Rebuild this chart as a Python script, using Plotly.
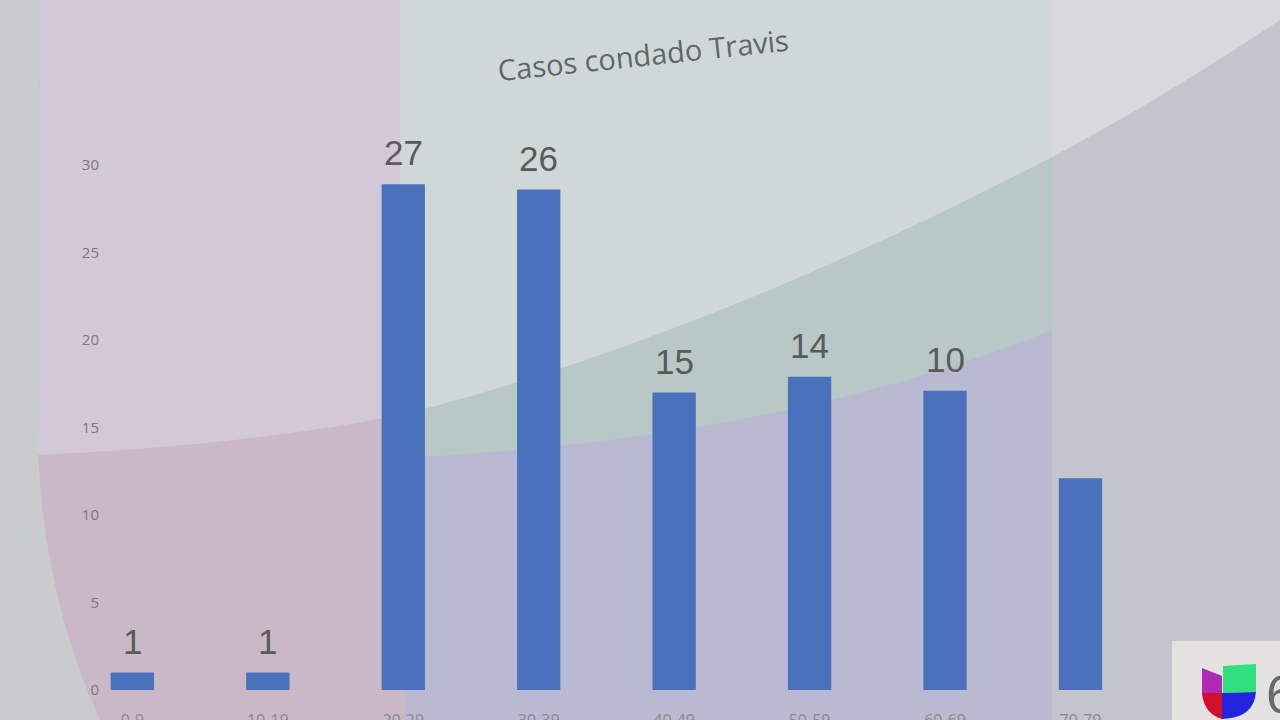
import plotly.graph_objects as go

# ---- data ----
age_groups = ["0-9", "10-19", "20-29", "30-39", "40-49", "50-59", "60-69", "70-79"]
bar_values = [1, 1, 28.9, 28.6, 17.0, 17.9, 17.1, 12.1]      # bar heights on the axis scale
value_labels = ["1", "1", "27", "26", "15", "14", "10", ""]   # numbers printed above bars
y_ticks = [0, 5, 10, 15, 20, 25, 30]
title_text = "Casos condado Travis"

W, H = 1280, 720


def P(x, y):
    return f"{x / W:.5f},{1 - y / H:.5f}"


def path(cmds):
    out = []
    for c in cmds:
        if isinstance(c, str):
            out.append(c)
        else:
            out.append(P(*c))
    return " ".join(out)


def shape(d, color):
    return dict(type="path", xref="paper", yref="paper", path=d,
                fillcolor=color, line=dict(width=0), layer="below")


shapes = [
    # left column lower (pink)
    shape(path(["M", (40, 0), "L", (400, 0), "L", (405, 720), "L", (100, 720),
                "Q", (45, 600), (38, 455), "Z"]), "#cab8c6"),
    # left column upper (lavender-pink)
    shape(path(["M", (40, 0), "L", (400, 0), "L", (400, 415),
                "Q", (250, 445), (38, 455), "Z"]), "#d3c8d8"),
    # centre column lavender
    shape(path(["M", (400, 0), "L", (1052, 0), "L", (1052, 720), "L", (405, 720), "Z"]), "#b9b9d1"),
    # centre column green band
    shape(path(["M", (400, 0), "L", (1052, 0), "L", (1052, 330),
                "Q", (780, 440), (400, 458), "Z"]), "#b7c8c6"),
    # centre column top light
    shape(path(["M", (400, 0), "L", (1052, 0), "L", (1052, 157),
                "Q", (700, 340), (400, 415), "Z"]), "#cfd8d7"),
    # right column
    shape(path(["M", (1052, 0), "L", (1280, 0), "L", (1280, 720), "L", (1052, 720), "Z"]), "#c3c4cc"),
    # right column top light
    shape(path(["M", (1052, 0), "L", (1280, 0), "L", (1280, 20),
                "Q", (1160, 100), (1052, 157), "Z"]), "#d9d9dc"),
    # logo box
    shape(path(["M", (1172, 641), "L", (1280, 641), "L", (1280, 720), "L", (1172, 720), "Z"]), "#e4e1e1"),
    # logo quadrants
    shape(path(["M", (1202, 668), "L", (1222, 676), "L", (1222, 693), "L", (1202, 693), "Z"]), "#b02ab4"),
    shape(path(["M", (1223, 666), "L", (1256, 664), "L", (1256, 692), "L", (1223, 693), "Z"]), "#2fe07c"),
    shape(path(["M", (1202, 693), "L", (1222, 693), "L", (1222, 719),
                "Q", (1204, 714), (1202, 693), "Z"]), "#d2102c"),
    shape(path(["M", (1222, 693), "L", (1256, 692), "Q", (1254, 718), (1222, 719), "Z"]), "#2424dc"),
]

fig = go.Figure(
    go.Bar(
        x=age_groups,
        y=bar_values,
        width=0.32,
        marker=dict(color="#4a72bc", line=dict(width=0)),
        hoverinfo="x+y",
    )
)

annotations = []
for cat, val, lab in zip(age_groups, bar_values, value_labels):
    if lab:
        annotations.append(dict(
            x=cat, y=val, xref="x", yref="y", text=lab, showarrow=False,
            xanchor="center", yanchor="bottom", yshift=10,
            font=dict(family="Liberation Sans, Arial", size=35, color="#5a5a5a"),
        ))

annotations.append(dict(
    x=643 / W, y=1 - 55 / H, xref="paper", yref="paper", text=title_text,
    showarrow=False, textangle=-6, xanchor="center", yanchor="middle",
    font=dict(family="Open Sans", size=29, color="#5f6668"),
))
annotations.append(dict(
    x=1264 / W, y=1 - 694 / H, xref="paper", yref="paper", text="6",
    showarrow=False, xanchor="left", yanchor="middle",
    font=dict(family="Liberation Sans, Arial", size=54, color="#6a6a6a"),
))

fig.update_layout(
    width=W, height=H,
    margin=dict(l=0, r=0, t=0, b=0, autoexpand=False),
    paper_bgcolor="#cacbcf",
    plot_bgcolor="rgba(0,0,0,0)",
    showlegend=False,
    shapes=shapes,
    annotations=annotations,
    xaxis=dict(
        domain=[100 / W, 1177.6 / W],
        type="category",
        range=[-0.239, 7.717],
        automargin=False,
        showgrid=False, zeroline=False, showline=False, ticks="",
        ticklabelstandoff=19,
        tickfont=dict(family="Open Sans", size=16, color="#8a8a8a"),
    ),
    yaxis=dict(
        domain=[30 / H, 1 - 112.5 / H],
        range=[0, 33],
        tickvals=y_ticks,
        automargin=False,
        showgrid=False, zeroline=False, showline=False, ticks="",
        tickfont=dict(family="Open Sans", size=15, color="#7a7a7a"),
    ),
)

fig.write_html(
    "out.html",
    config={"displayModeBar": False},
    post_script="document.body.style.margin='0';document.body.style.overflow='hidden';",
)
